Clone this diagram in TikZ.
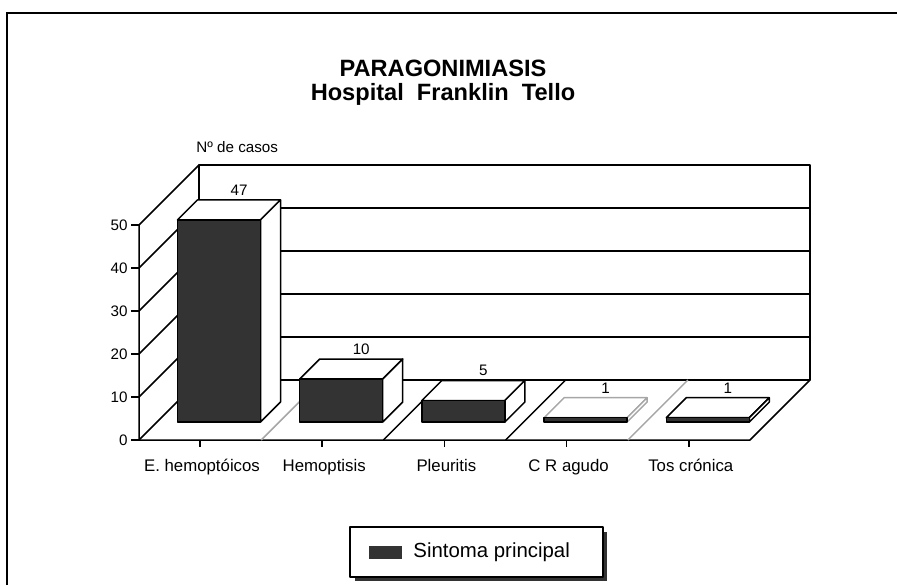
\documentclass[tikz,border=0pt]{standalone}
\usepackage{fontspec}
\setmainfont{Liberation Sans}
\usetikzlibrary{positioning}

\definecolor{barfill}{gray}{0.2}
\definecolor{fadedline}{gray}{0.65}

\begin{document}
\begin{tikzpicture}[x=0.5pt,y=-0.5pt,
    chartline/.style={line width=0.75pt, line join=round},
    barfront/.style={chartline, fill=barfill},
    barface/.style={chartline, fill=white},
    axislabel/.style={font=\fontsize{7.6}{9}\selectfont, inner sep=0pt},
    catlabel/.style={font=\fontsize{8.4}{10}\selectfont, inner sep=0pt, anchor=base},
    valuelabel/.style={font=\fontsize{7.6}{9}\selectfont, inner sep=0pt, anchor=south},
    titletext/.style={font=\fontsize{11.8}{14}\selectfont\bfseries, inner sep=0pt}]

	% Fix the page and draw the frame
	\useasboundingbox (0,0) rectangle (897,585);
	\draw[line width=1pt] (7,585) -- (7,13) -- (897,13);

	% Add the titles
	\node[titletext] (title)    at (443,68) {PARAGONIMIASIS};
	\node[titletext] (hospital) at (443,94) {Hospital\ \ Franklin\ \ Tello};
	\node[axislabel, anchor=west] (ylabel) at (196,147) {Nº de casos};

	% Corners of the chart box
	\coordinate (frontL) at (139,440);
	\coordinate (frontR) at (750,440);
	\coordinate (backL)  at (199,380);
	\coordinate (backR)  at (810,380);
	\coordinate (topL)   at (199,165);
	\coordinate (topR)   at (810,165);
	\coordinate (axisT)  at (139,225);

	% Walls, floor and grid
	\draw[chartline] (backL) -- (topL) -- (topR) -- (backR) -- (backL);
	\draw[chartline] (axisT) -- (frontL) -- (frontR) -- (backR);
	\foreach \k in {0,...,5} {
		\draw[chartline] (139,440-43*\k) -- (199,380-43*\k);
		\draw[chartline] (131,440-43*\k) -- (139,440-43*\k);
		\node[axislabel, anchor=east] (ytick\k) at (128,440-43*\k) {\the\numexpr10*\k\relax};
	}
	\foreach \k in {1,...,4}
		\draw[chartline] (199,380-43*\k) -- (810,380-43*\k);

	% Floor dividers
	\foreach \k/\col in {1/fadedline,2/black,3/black,4/fadedline}
		\draw[chartline, draw=\col] (139+122.2*\k,440) -- ++(60,-60);

	% Categories
	\foreach \name [count=\i from 0] in {E. hemoptóicos,Hemoptisis,Pleuritis,C R\ agudo,Tos crónica} {
		\draw[chartline] (200+122.2*\i,440) -- ++(0,7);
		\node[catlabel] (cat\i) at (202+122.2*\i,471) {\name};
	}

	% The bars
	\foreach \v/\col [count=\i from 0] in {47/black,10/black,5/black,1/fadedline,1/black} {
		\begin{scope}[shift={(177.5+122.2*\i,422)}]
			\draw[barface, draw=\col] (0,-4.3*\v) -- ++(20,-20) -- ++(83,0) -- ++(-20,20) -- cycle;
			\draw[barface, draw=\col] (83,-4.3*\v) -- ++(20,-20) -- (103,-20) -- (83,0) -- cycle;
			\draw[barfront] (0,0) rectangle (83,-4.3*\v);
			\node[valuelabel] (val\i) at (61.5,-4.3*\v-24) {\v};
		\end{scope}
	}

	% Legend
	\fill[barfill] (355,532) rectangle (607,581);
	\draw[chartline, fill=white] (350,527) rectangle (603,577);
	\fill[barfill] (369,546) rectangle (402,559);
	\node[font=\fontsize{10.2}{12}\selectfont, inner sep=0pt, anchor=west] (legend) at (413,552) {Sintoma principal};
\end{tikzpicture}
\end{document}
